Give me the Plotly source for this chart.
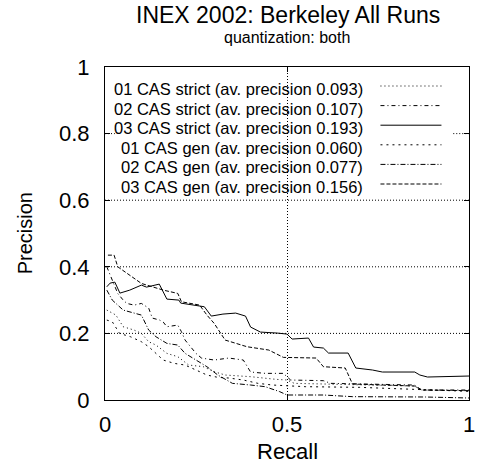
import plotly.graph_objects as go

# ---- data (recall, precision) ----
s01_x = [0.005, 0.03, 0.05, 0.08, 0.10, 0.12, 0.14, 0.17, 0.20, 0.23, 0.27, 0.30, 0.33, 0.40, 0.47, 0.50, 0.52, 0.60, 0.70, 0.85, 0.87, 1.0]
s01_y = [0.27, 0.255, 0.22, 0.21, 0.20, 0.175, 0.165, 0.14, 0.13, 0.105, 0.10, 0.085, 0.075, 0.07, 0.062, 0.06, 0.05, 0.048, 0.045, 0.042, 0.03, 0.028]

s02_x = [0.005, 0.02, 0.035, 0.05, 0.06, 0.08, 0.10, 0.12, 0.13, 0.15, 0.16, 0.17, 0.20, 0.21, 0.22, 0.25, 0.265, 0.30, 0.34, 0.38, 0.40, 0.44, 0.49, 0.51, 0.60, 0.62, 0.85, 0.87, 1.0]
s02_y = [0.40, 0.36, 0.32, 0.30, 0.29, 0.285, 0.29, 0.276, 0.246, 0.24, 0.234, 0.22, 0.225, 0.205, 0.18, 0.14, 0.126, 0.12, 0.126, 0.12, 0.084, 0.08, 0.08, 0.06, 0.058, 0.05, 0.045, 0.03, 0.03]

s03_x = [0.005, 0.014, 0.027, 0.041, 0.068, 0.10, 0.114, 0.149, 0.17, 0.203, 0.208, 0.257, 0.273, 0.292, 0.324, 0.359, 0.386, 0.40, 0.427, 0.473, 0.50, 0.514, 0.559, 0.573, 0.60, 0.614, 0.668, 0.689, 0.735, 0.762, 0.851, 0.865, 0.886, 1.0]
s03_y = [0.34, 0.351, 0.354, 0.321, 0.330, 0.345, 0.339, 0.348, 0.303, 0.300, 0.291, 0.282, 0.280, 0.252, 0.258, 0.261, 0.252, 0.219, 0.204, 0.201, 0.198, 0.183, 0.186, 0.159, 0.156, 0.141, 0.141, 0.096, 0.090, 0.084, 0.084, 0.075, 0.069, 0.072]

g01_x = [0.005, 0.02, 0.04, 0.07, 0.10, 0.12, 0.14, 0.16, 0.19, 0.22, 0.25, 0.28, 0.31, 0.34, 0.38, 0.42, 0.46, 0.50, 0.55, 0.70, 0.87, 1.0]
g01_y = [0.24, 0.235, 0.20, 0.19, 0.175, 0.16, 0.14, 0.12, 0.11, 0.105, 0.09, 0.075, 0.068, 0.066, 0.06, 0.05, 0.045, 0.042, 0.04, 0.038, 0.03, 0.026]

g02_x = [0.005, 0.02, 0.05, 0.08, 0.10, 0.12, 0.14, 0.17, 0.20, 0.22, 0.25, 0.28, 0.31, 0.35, 0.40, 0.44, 0.48, 0.50, 0.60, 0.68, 0.88, 1.0]
g02_y = [0.33, 0.30, 0.27, 0.26, 0.255, 0.21, 0.19, 0.17, 0.165, 0.14, 0.12, 0.10, 0.075, 0.05, 0.045, 0.04, 0.025, 0.015, 0.015, 0.01, 0.009, 0.006]

g03_x = [0.008, 0.025, 0.035, 0.10, 0.16, 0.20, 0.21, 0.26, 0.28, 0.30, 0.33, 0.36, 0.39, 0.45, 0.49, 0.58, 0.60, 0.66, 0.68, 0.85, 0.87, 1.0]
g03_y = [0.435, 0.435, 0.40, 0.35, 0.33, 0.32, 0.295, 0.285, 0.255, 0.23, 0.18, 0.17, 0.16, 0.15, 0.128, 0.126, 0.10, 0.096, 0.048, 0.042, 0.03, 0.028]

run_names = [
    "01 CAS strict (av. precision 0.093)",
    "02 CAS strict (av. precision 0.107)",
    "03 CAS strict (av. precision 0.193)",
    "01 CAS gen (av. precision 0.060)",
    "02 CAS gen (av. precision 0.077)",
    "03 CAS gen (av. precision 0.156)",
]
run_dashes = ["1px,3px", "4px,3px,1px,3px", "solid", "2px,4px", "5px,2px,1px,2px", "4px,2px"]

x_ticks = [0, 0.5, 1]
x_ticktext = ["0", "0.5", "1"]
y_ticks = [0, 0.2, 0.4, 0.6, 0.8, 1]
y_ticktext = ["0", "0.2", "0.4", "0.6", "0.8", "1"]

series = [(s01_x, s01_y), (s02_x, s02_y), (s03_x, s03_y),
          (g01_x, g01_y), (g02_x, g02_y), (g03_x, g03_y)]

FONT = "Liberation Sans, Arial, Helvetica, sans-serif"
GRIDDASH = "1px,2px"

fig = go.Figure()
for (xs, ys), name, dash in zip(series, run_names, run_dashes):
    fig.add_trace(go.Scatter(x=xs, y=ys, mode="lines", name=name, showlegend=False,
                             line=dict(color="black", width=1, dash=dash)))

# plot-area geometry (px) used for placing decorations
L, R, T, B = 105, 475, 67, 400
W, H = 478, 466
def px(xp):
    return (xp - L) / (R - L)
def py(yp):
    return (B - yp) / (B - T)

annotations = [
    dict(text="INEX 2002: Berkeley All Runs", x=px(291), y=py(15), xref="paper", yref="paper",
         showarrow=False, font=dict(size=23, color="black", family=FONT), xanchor="center", yanchor="middle"),
    dict(text="quantization: both", x=px(290), y=py(37), xref="paper", yref="paper",
         showarrow=False, font=dict(size=16, color="black", family=FONT), xanchor="center", yanchor="middle"),
    dict(text="Recall", x=px(290), y=py(451), xref="paper", yref="paper",
         showarrow=False, font=dict(size=22, color="black", family=FONT), xanchor="center", yanchor="middle"),
    dict(text="Precision", x=px(24), y=py(233), xref="paper", yref="paper", textangle=-90,
         showarrow=False, font=dict(size=20, color="black", family=FONT), xanchor="center", yanchor="middle"),
]

shapes = []
# horizontal grid lines (the 0.8 one is interrupted by the key, as in the reference)
for yv in y_ticks[1:-1]:
    if yv == 0.8:
        segs = [(0, px(115)), (px(459), 1)]
    else:
        segs = [(0, 1)]
    for x0, x1 in segs:
        shapes.append(dict(type="line", xref="paper", yref="y", x0=x0, x1=x1, y0=yv, y1=yv,
                           line=dict(color="black", width=1, dash=GRIDDASH), layer="below"))

# manual key: text right-aligned, line sample to the right
for i, (name, dash) in enumerate(zip(run_names, run_dashes)):
    yc = 89 + 19.6 * i
    annotations.append(dict(text=name, x=px(369), y=py(yc), xref="paper", yref="paper",
                            showarrow=False, xanchor="right", yanchor="middle",
                            font=dict(size=16.5, color="black", family=FONT)))
    shapes.append(dict(type="line", xref="paper", yref="paper", x0=px(385), x1=px(447),
                       y0=py(yc - 3), y1=py(yc - 3), line=dict(color="black", width=1, dash=dash)))

axis_common = dict(range=[0, 1], showline=True, linecolor="black", linewidth=1, mirror="ticks",
                   ticks="inside", ticklen=5, tickcolor="black", gridcolor="black",
                   gridwidth=1, griddash=GRIDDASH, zeroline=False, ticklabeloverflow="allow",
                   tickfont=dict(size=22, color="black", family=FONT))

fig.update_layout(
    width=W, height=H,
    margin=dict(l=L, r=W - R, t=T, b=H - B),
    paper_bgcolor="white", plot_bgcolor="white",
    xaxis=dict(tickvals=x_ticks, ticktext=x_ticktext, ticklabelstandoff=5, showgrid=True, **axis_common),
    yaxis=dict(tickvals=y_ticks, ticktext=y_ticktext, ticklabelstandoff=10, showgrid=False, **axis_common),
    annotations=annotations, shapes=shapes,
)

fig.write_html("out.html")
